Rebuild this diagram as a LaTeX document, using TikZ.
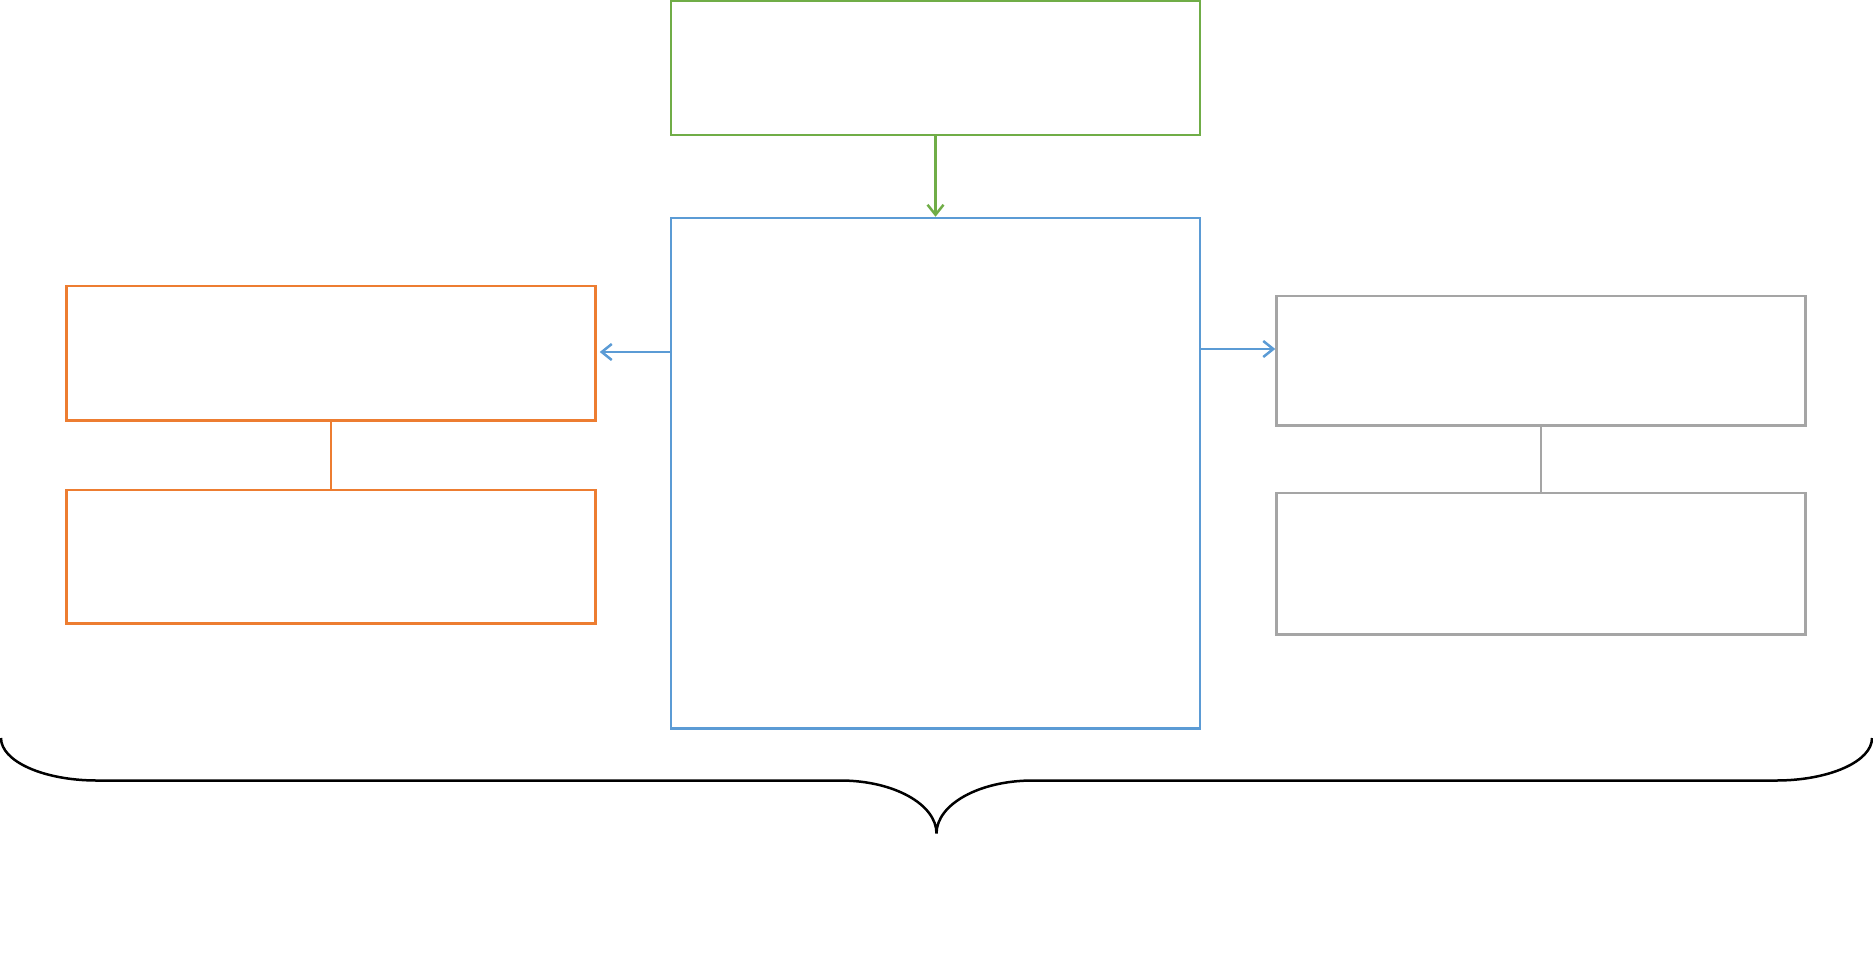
\documentclass[tikz,border=0pt]{standalone}
\usetikzlibrary{arrows.meta}
\definecolor{cgreen}{HTML}{70AD47}
\definecolor{cblue}{HTML}{5B9BD5}
\definecolor{corange}{HTML}{ED7D31}
\definecolor{cgray}{HTML}{A5A5A5}
\begin{document}
\begin{tikzpicture}[x=0.5pt,y=-0.5pt,
  box/.style={draw,line width=1.25pt,rectangle,inner sep=0pt,minimum width=264.5pt},
  arr/.style={line width=1.25pt,-{Straight Barb[length=5pt,width=8pt,line width=1.25pt]}},
  link/.style={line width=1.25pt}]
\useasboundingbox (0,0) rectangle (1873,960);
% boxes
\node[box,cgreen,minimum height=67pt] (top) at (935.5,68) {};
\node[box,cblue,minimum height=255.25pt] (blue) at (935.5,473.25) {};
\node[box,corange,minimum height=67.25pt] (o1) at (331,353.25) {};
\node[box,corange,minimum height=66.75pt] (o2) at (331,556.65) {};
\node[box,cgray,minimum height=64.75pt] (g1) at (1541,360.75) {};
\node[box,cgray,minimum height=70.65pt] (g2) at (1541,563.65) {};
% connectors
\draw[arr,cgreen] (top.south) -- (blue.north);
\coordinate (ly) at (0,352);
\coordinate (ry) at (0,349);
\draw[arr,cblue,shorten >=1.5pt] (blue.west |- ly) -- (o1.east |- ly);
\draw[arr,cblue] (blue.east |- ry) -- (g1.west |- ry);
\draw[link,corange] (o1.south) -- (o2.north);
\draw[link,cgray] (g1.south) -- (g2.north);
% brace
\coordinate (bl) at (1,738);
\coordinate (br) at (1872,738);
\coordinate (bt) at (936.5,833.5);
\draw[line width=1.25pt,black]
  (bl) .. controls (1,761.5) and (44,780.5) .. (97,780.5)
  -- (840.5,780.5) .. controls (893.5,780.5) and (936.5,804.2) .. (bt)
  .. controls (936.5,804.2) and (979.5,780.5) .. (1032.5,780.5)
  -- (1776,780.5) .. controls (1829,780.5) and (1872,761.5) .. (br);
\end{tikzpicture}
\end{document}
